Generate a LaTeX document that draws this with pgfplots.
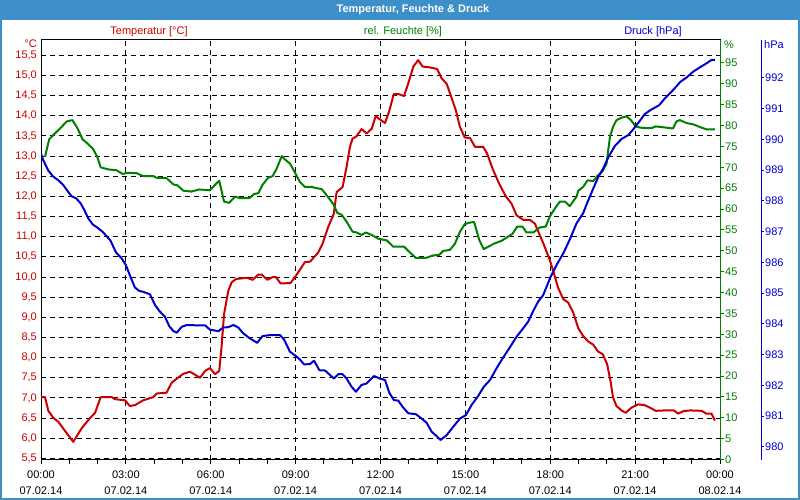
\documentclass[border=0pt]{standalone}
\usepackage{pgfplots}
\pgfplotsset{compat=1.18}
\usepackage{fontspec}
\setmainfont{Liberation Sans}

\definecolor{tred}{RGB}{204,0,0}
\definecolor{hgreen}{RGB}{0,128,0}
\definecolor{pblue}{RGB}{0,0,204}
\definecolor{barblue}{RGB}{61,143,201}

\pgfplotsset{
  base/.style={
    scale only axis, width=679pt, height=420pt,
    at={(41pt,40pt)}, anchor=south west,
    xmin=0, xmax=24,
    font=\fontsize{11}{13}\selectfont,
  },
}

\begin{document}
\begin{tikzpicture}
\path[use as bounding box] (0pt,0pt) rectangle (800pt,500pt);
\fill[white] (0pt,0pt) rectangle (800pt,500pt);
\fill[barblue] (0pt,480pt) rectangle (800pt,500pt);

% temperature (main axis, grid)
\begin{axis}[
  base,
  ymin=5.46, ymax=15.88,
  ytick={5.5,6,6.5,7,7.5,8,8.5,9,9.5,10,10.5,11,11.5,12,12.5,13,13.5,14,14.5,15,15.5},
  ytick pos=left,
  ytick style={draw=none},
  yticklabel style={text=tred, anchor=east, inner sep=0pt,
    /pgf/number format/fixed, /pgf/number format/fixed zerofill,
    /pgf/number format/precision=1, /pgf/number format/use comma,
    /pgf/number format/assume math mode=true},
  yticklabel shift=4pt,
  xtick={0,3,6,9,12,15,18,21,24},
  minor xtick={1,2,4,5,7,8,10,11,13,14,16,17,19,20,22,23},
  xticklabels={{00:00\\07.02.14},{03:00\\07.02.14},{06:00\\07.02.14},
    {09:00\\07.02.14},{12:00\\07.02.14},{15:00\\07.02.14},
    {18:00\\07.02.14},{21:00\\07.02.14},{00:00\\08.02.14}},
  xticklabel style={align=center, inner sep=0pt, font=\fontsize{11}{15.7}\selectfont},
  xticklabel shift=7pt,
  xtick pos=left, xtick align=outside,
  major tick length=4pt, minor tick length=4pt,
  xtick style={black, line width=1pt},
  xmajorgrids, ymajorgrids,
  major grid style={black, line width=1pt, dash pattern=on 5pt off 4pt},
  axis line style={black, line width=1pt},
]
\addplot[tred, line width=2pt, line join=round] coordinates {
(0,7.02)(0.14,7.02)(0.26,6.68)(0.44,6.50)(0.61,6.41)(0.85,6.18)(1.14,5.91)(1.44,6.25)
(1.73,6.50)(1.91,6.63)(2.11,7.02)(2.50,7.02)(2.61,6.97)(2.97,6.94)(3.14,6.80)(3.32,6.82)
(3.61,6.94)(3.97,7.02)(4.09,7.11)(4.44,7.13)(4.62,7.38)(5.03,7.60)(5.27,7.65)(5.62,7.50)
(5.80,7.67)(5.97,7.74)(6.15,7.59)(6.30,7.67)(6.38,8.25)(6.47,9.08)(6.62,9.66)(6.74,9.87)
(6.89,9.95)(7.27,9.98)(7.48,9.93)(7.68,10.06)(7.80,10.06)(8.00,9.93)(8.19,10.00)(8.30,10.00)
(8.47,9.84)(8.82,9.85)(9.01,10.03)(9.33,10.37)(9.51,10.38)(9.80,10.61)(9.95,10.82)(10.15,11.24)
(10.35,11.57)(10.45,12.11)(10.66,12.23)(10.80,12.73)(10.92,13.23)(11.01,13.43)(11.15,13.49)
(11.33,13.67)(11.51,13.56)(11.69,13.68)(11.83,13.99)(11.98,13.91)(12.16,13.82)(12.31,14.12)
(12.47,14.54)(12.63,14.54)(12.83,14.49)(12.98,14.80)(13.16,15.22)(13.33,15.38)(13.49,15.22)
(13.75,15.20)(14.00,15.16)(14.16,14.93)(14.34,14.79)(14.48,14.51)(14.66,14.14)(14.81,13.72)
(14.98,13.46)(15.16,13.45)(15.34,13.23)(15.63,13.23)(15.77,13.06)(15.96,12.69)(16.19,12.32)
(16.43,12.00)(16.63,11.82)(16.81,11.53)(17.04,11.42)(17.28,11.42)(17.46,11.32)(17.61,11.07)
(17.77,10.81)(17.99,10.41)(18.10,10.16)(18.28,9.73)(18.46,9.45)(18.63,9.37)(18.81,9.12)
(18.99,8.73)(19.16,8.54)(19.34,8.40)(19.52,8.32)(19.69,8.15)(19.85,8.09)(20.01,7.84)
(20.13,7.42)(20.22,7.01)(20.34,6.80)(20.52,6.69)(20.67,6.63)(20.87,6.76)(21.11,6.84)
(21.34,6.82)(21.52,6.76)(21.73,6.68)(22.05,6.69)(22.37,6.69)(22.52,6.61)(22.70,6.67)
(22.93,6.69)(23.35,6.68)(23.52,6.61)(23.70,6.61)(23.82,6.44)
};
\end{axis}

% humidity
\begin{axis}[
  base,
  axis x line=none, axis y line*=right,
  ymin=-0.1, ymax=100.5,
  ytick={0,5,10,15,20,25,30,35,40,45,50,55,60,65,70,75,80,85,90,95},
  y axis line style={hgreen, line width=1pt},
  ytick style={hgreen, line width=1pt},
  ytick align=outside, major tick length=4pt,
  yticklabel style={text=hgreen, anchor=west, inner sep=0pt,
    /pgf/number format/assume math mode=true},
  yticklabel shift=1pt,
]
\addplot[hgreen, line width=2pt, line join=round] coordinates {
(0.14,72.5)(0.29,76.7)(0.46,77.9)(0.73,79.7)(0.91,81.0)(1.11,81.3)(1.28,79.5)(1.47,76.7)
(1.61,75.9)(1.83,74.5)(1.99,72.5)(2.11,70.0)(2.38,69.5)(2.67,69.3)(2.89,68.4)(3.05,68.7)
(3.38,68.6)(3.61,67.9)(3.97,67.9)(4.09,67.5)(4.44,67.4)(4.68,65.9)(4.82,65.7)(5.03,64.4)
(5.32,64.2)(5.59,64.7)(5.97,64.5)(6.15,65.8)(6.30,66.8)(6.47,61.8)(6.65,61.5)(6.86,63.0)
(7.03,62.6)(7.36,62.6)(7.53,63.6)(7.68,63.8)(7.83,65.8)(8.03,67.5)(8.19,67.9)(8.33,69.7)
(8.51,72.7)(8.62,71.9)(8.80,70.9)(8.98,68.7)(9.15,66.5)(9.33,65.3)(9.57,65.3)(9.74,65.0)
(9.92,64.8)(10.04,63.8)(10.21,62.3)(10.35,61.0)(10.47,59.1)(10.63,58.6)(10.80,57.0)
(11.01,54.6)(11.15,54.4)(11.33,53.8)(11.48,54.4)(11.69,53.8)(11.92,52.9)(12.22,52.5)
(12.45,51.0)(12.83,51.0)(13.04,49.6)(13.25,48.3)(13.60,48.3)(13.86,48.9)(14.07,49.0)
(14.22,50.0)(14.45,50.2)(14.63,51.7)(14.81,54.6)(14.98,56.4)(15.18,56.8)(15.31,56.9)
(15.49,52.6)(15.65,50.4)(15.81,51.0)(16.04,51.8)(16.28,52.4)(16.51,53.4)(16.67,54.1)
(16.83,55.8)(17.02,55.8)(17.16,54.4)(17.40,54.4)(17.63,55.6)(17.84,55.8)(17.99,58.3)
(18.16,60.1)(18.34,61.8)(18.52,61.8)(18.69,60.7)(18.93,63.0)(18.99,64.4)(19.16,65.3)
(19.32,66.9)(19.52,66.7)(19.66,67.9)(19.85,69.1)(19.99,70.9)(20.11,77.3)(20.22,79.7)
(20.34,81.3)(20.52,81.9)(20.70,82.2)(20.85,81.3)(21.02,79.8)(21.19,79.5)(21.40,79.4)
(21.58,79.4)(21.73,79.8)(21.99,79.6)(22.34,79.3)(22.46,81.0)(22.58,81.3)(22.82,80.6)
(23.05,80.3)(23.35,79.5)(23.52,79.1)(23.82,79.1)
};
\end{axis}

% pressure
\begin{axis}[
  base,
  axis x line=none, axis y line*=right,
  ymin=979.57, ymax=993.23,
  ytick={980,981,982,983,984,985,986,987,988,989,990,991,992},
  y axis line style={pblue, line width=1pt, xshift=41pt},
  ytick style={pblue, line width=1pt, xshift=41pt},
  ytick align=outside, major tick length=3pt,
  yticklabel style={text=pblue, anchor=west, inner sep=0pt, xshift=41pt,
    /pgf/number format/assume math mode=true},
  yticklabel shift=1pt,
]
\addplot[pblue, line width=2pt, line join=round] coordinates {
(0,989.54)(0.08,989.32)(0.26,988.98)(0.44,988.78)(0.61,988.67)(0.79,988.51)(0.93,988.33)
(1.08,988.15)(1.24,988.08)(1.40,987.92)(1.52,987.72)(1.67,987.43)(1.83,987.23)(1.99,987.13)
(2.18,986.99)(2.32,986.85)(2.46,986.70)(2.65,986.32)(2.85,986.13)(3.00,985.91)(3.14,985.58)
(3.32,985.18)(3.47,985.07)(3.61,985.04)(3.85,984.96)(4.03,984.61)(4.18,984.42)(4.38,984.23)
(4.53,983.93)(4.67,983.77)(4.80,983.71)(4.97,983.90)(5.15,983.96)(5.50,983.95)(5.80,983.95)
(5.97,983.81)(6.27,983.76)(6.44,983.88)(6.62,983.89)(6.80,983.96)(6.97,983.88)(7.15,983.69)
(7.36,983.54)(7.64,983.38)(7.83,983.60)(8.07,983.63)(8.45,983.63)(8.59,983.49)(8.80,983.09)
(9.01,982.95)(9.15,982.84)(9.30,982.68)(9.51,982.69)(9.65,982.80)(9.84,982.49)(10.04,982.48)
(10.35,982.22)(10.51,982.36)(10.66,982.36)(10.80,982.22)(10.98,981.95)(11.13,981.79)
(11.33,982.01)(11.51,982.06)(11.77,982.30)(11.98,982.22)(12.16,982.17)(12.31,981.76)
(12.47,981.52)(12.63,981.50)(12.78,981.30)(12.98,981.09)(13.25,981.06)(13.45,980.92)
(13.63,980.78)(13.81,980.49)(13.98,980.35)(14.12,980.22)(14.34,980.38)(14.57,980.65)
(14.81,980.92)(15.02,981.03)(15.22,981.36)(15.45,981.65)(15.65,981.95)(15.87,982.17)
(16.10,982.55)(16.34,982.91)(16.57,983.23)(16.81,983.58)(17.04,983.85)(17.22,984.07)
(17.40,984.42)(17.57,984.72)(17.75,984.93)(17.99,985.48)(18.22,985.91)(18.46,986.29)
(18.69,986.74)(18.93,987.27)(19.16,987.59)(19.30,987.92)(19.52,988.40)(19.69,988.76)
(19.87,989.05)(20.05,989.41)(20.28,989.78)(20.52,990.01)(20.76,990.14)(20.93,990.32)
(21.14,990.57)(21.34,990.82)(21.54,990.95)(21.85,991.11)(22.05,991.33)(22.34,991.60)
(22.60,991.87)(22.82,992.01)(23.05,992.20)(23.29,992.34)(23.52,992.47)(23.70,992.58)
(23.82,992.58)
};
\end{axis}

\begin{scope}[font=\fontsize{11}{13}\selectfont]
\node[white, font=\fontsize{11}{13}\selectfont\bfseries] at (413pt,490pt) {Temperatur, Feuchte \& Druck};
\node[tred] at (149pt,468pt) {Temperatur [°C]};
\node[hgreen] at (403pt,468pt) {rel. Feuchte [\%]};
\node[pblue] at (653pt,468pt) {Druck [hPa]};
\node[tred, anchor=east, inner sep=0pt] at (37pt,456pt) {°C};
\node[hgreen, anchor=west, inner sep=0pt] at (724pt,455pt) {\%};
\node[pblue, anchor=west, inner sep=0pt] at (764pt,455pt) {hPa};
\end{scope}

\draw[barblue, line width=2pt] (1pt,1pt) rectangle (799pt,499pt);
\end{tikzpicture}
\end{document}
